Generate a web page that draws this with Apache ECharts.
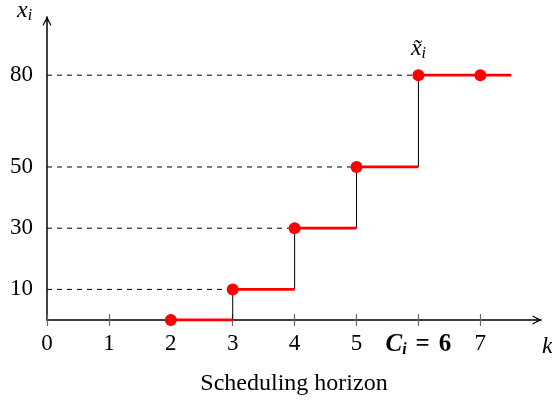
<!DOCTYPE html>
<html>
<head>
<meta charset="utf-8">
<script src="https://cdn.jsdelivr.net/npm/echarts@6/dist/echarts.min.js"></script>
<style>
  html, body { margin: 0; padding: 0; background: #fff; }
  #main { width: 552px; height: 401px; }
</style>
</head>
<body>
<div id="main"></div>
<script>
// data
const kSteps = [2, 3, 4, 5, 6, 7];
const xValues = [0, 10, 30, 50, 80, 80];
const lastEnd = 7.5;
const xTicks = [0, 1, 2, 3, 4, 5, 6, 7];
const yTicks = [10, 30, 50, 80];
const capacityK = 6;

const FONT = 'Liberation Serif';
const ARROW = 'path://M5,0 L10,10 L9,10.5 L5,3.5 L1,10.5 L0,10 Z';

// red horizontal pieces
let segments = [];
for (let i = 0; i < kSteps.length; i++) {
    if (i > 0 && xValues[i] === xValues[i - 1]) continue;
    let end = lastEnd;
    for (let j = i + 1; j < kSteps.length; j++) {
        if (xValues[j] !== xValues[i]) { end = kSteps[j]; break; }
    }
    segments.push([[kSteps[i], xValues[i]], [end, xValues[i]]]);
}
// black risers
let risers = [];
for (let i = 1; i < kSteps.length; i++) {
    if (xValues[i] !== xValues[i - 1]) {
        risers.push([[kSteps[i], xValues[i - 1]], [kSteps[i], xValues[i]]]);
    }
}
// dashed guides
let guides = yTicks.map(function (v) {
    let idx = xValues.indexOf(v);
    return [[0, v], [kSteps[idx], v]];
});

let series = [];
guides.forEach(function (g) {
    series.push({
        type: 'line', data: g, symbol: 'none', silent: true,
        lineStyle: { color: '#000', width: 1, type: [5, 5] }, z: 1
    });
});
risers.forEach(function (r) {
    series.push({
        type: 'line', data: r, symbol: 'none', silent: true,
        lineStyle: { color: '#000', width: 1 }, z: 2
    });
});
segments.forEach(function (s) {
    series.push({
        type: 'line', data: s, symbol: 'none', silent: true,
        lineStyle: { color: '#ff0000', width: 2.8 }, z: 3
    });
});
series.push({
    type: 'scatter',
    symbolSize: 12,
    itemStyle: { color: '#ff0000', opacity: 1 },
    z: 4,
    data: kSteps.map(function (k, i) {
        let item = { value: [k, xValues[i]] };
        if (k === capacityK) {
            item.label = {
                show: true, position: 'top', distance: 7,
                formatter: '{x|x\u0303}{s|i}',
                rich: {
                    x: { fontFamily: FONT, fontStyle: 'italic', fontSize: 24, color: '#000' },
                    s: { fontFamily: FONT, fontStyle: 'italic', fontSize: 16, color: '#000', padding: [10, 0, 0, 0] }
                }
            };
        }
        return item;
    })
});

let myChart = echarts.init(document.getElementById('main'));
let option = {
    animation: false,
    grid: { left: 47, right: 11, top: 17, bottom: 78.5 },
    xAxis: [{
        type: 'value', min: 0, max: 7.98, interval: 1,
        name: 'Scheduling horizon', nameLocation: 'middle', nameGap: 52,
        nameTextStyle: { fontFamily: FONT, fontSize: 24, color: '#000' },
        axisLine: {
            lineStyle: { color: '#000', width: 1.5 },
            symbol: ['none', ARROW], symbolSize: [9, 10], symbolOffset: [0, -4]
        },
        axisTick: { show: true, length: 6, customValues: xTicks, lineStyle: { color: '#666', width: 1.2 } },
        axisLabel: {
            customValues: xTicks, margin: 12, color: '#000',
            fontFamily: FONT, fontSize: 23,
            formatter: function (v) {
                return v === capacityK ? '{c|C}{s|i}{sp|}{e|=}{sp|}{e|' + v + '}' : String(v);
            },
            rich: {
                c: { fontFamily: FONT, fontStyle: 'italic', fontWeight: 'bold', fontSize: 25, color: '#000' },
                s: { fontFamily: FONT, fontStyle: 'italic', fontWeight: 'bold', fontSize: 16, color: '#000', padding: [10, 0, 0, 0] },
                sp: { width: 9 },
                e: { fontFamily: FONT, fontWeight: 'bold', fontSize: 25, color: '#000' }
            }
        },
        splitLine: { show: false }
    }, {
        type: 'value', min: 0, max: 7.98, interval: 1, position: 'bottom',
        axisLine: { show: false },
        axisTick: { show: true, inside: true, length: 6, customValues: xTicks, lineStyle: { color: '#666', width: 1.2 } },
        axisLabel: { show: false },
        splitLine: { show: false }
    }],
    yAxis: {
        type: 'value', min: 0, max: 99, interval: 10,
        axisLine: {
            lineStyle: { color: '#000', width: 1.5 },
            symbol: ['none', ARROW], symbolSize: [9, 10], symbolOffset: [0, -4]
        },
        axisTick: { show: false },
        axisLabel: { customValues: yTicks, margin: 14, color: '#000', fontFamily: FONT, fontSize: 23 },
        splitLine: { show: false }
    },
    graphic: [{
        type: 'text', left: 17, top: -1,
        style: {
            text: '{x|x}{s|i}',
            rich: {
                x: { fontFamily: FONT, fontStyle: 'italic', fontSize: 24, fill: '#000' },
                s: { fontFamily: FONT, fontStyle: 'italic', fontSize: 16, fill: '#000', padding: [10, 0, 0, 0] }
            }
        }
    }, {
        type: 'text', left: 542, top: 335,
        style: { text: 'k', fontFamily: FONT, fontStyle: 'italic', fontSize: 24, fill: '#000' }
    }],
    series: series
};
myChart.setOption(option);
</script>
</body>
</html>
